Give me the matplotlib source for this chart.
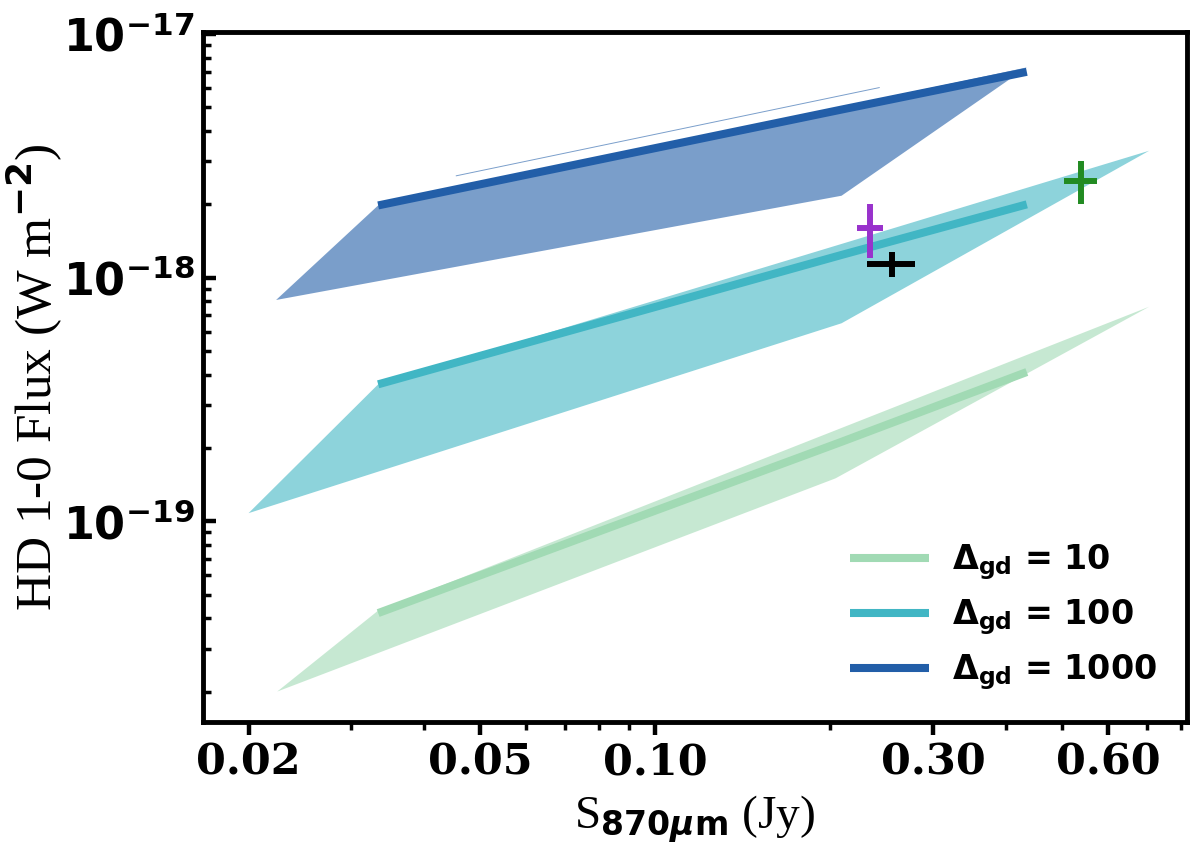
import matplotlib
matplotlib.use("Agg")
import matplotlib.pyplot as plt
from matplotlib.ticker import FixedLocator, FixedFormatter, NullFormatter

plt.rcParams['mathtext.fontset'] = 'dejavusans'

# model curves (S870 in Jy, HD 1-0 flux in W m^-2)
s870_line = [0.0334, 0.209, 0.435]
flux_gd10 = [4.2e-20, 2.12e-19, 4.1e-19]
flux_gd100 = [3.65e-19, 1.24e-18, 2.0e-18]
flux_gd1000 = [1.98e-18, 4.9e-18, 7.0e-18]

# outlines of the shaded model ranges
fill_x_gd10 = [0.0224, 0.0334, 0.706, 0.204]
fill_y_gd10 = [2.0e-20, 4.3e-20, 7.6e-19, 1.5e-19]
fill_x_gd100 = [0.0200, 0.0334, 0.706, 0.209]
fill_y_gd100 = [1.08e-19, 3.65e-19, 3.32e-18, 6.5e-19]
fill_x_gd1000 = [0.0223, 0.0334, 0.435, 0.209]
fill_y_gd1000 = [8.1e-19, 1.98e-18, 7.3e-18, 2.17e-18]
sliver_x_gd1000 = [0.0455, 0.2426]
sliver_y_gd1000 = [2.62e-18, 6.03e-18]

# observed sources
obs_x = [0.234, 0.2554, 0.5395]
obs_xerr = [0.012, 0.024, 0.035]
obs_y = [1.6e-18, 1.14e-18, 2.5e-18]
obs_yerr = [0.4e-18, 0.13e-18, 0.5e-18]
obs_colors = ['darkorchid', 'black', 'forestgreen']

labels = [r'$\mathbf{\Delta_{gd}}$ = 10', r'$\mathbf{\Delta_{gd}}$ = 100',
          r'$\mathbf{\Delta_{gd}}$ = 1000']
colors = ['#a1dab4', '#41b6c4', '#225ea8']

xticks = [0.02, 0.05, 0.1, 0.3, 0.6]
xticklabels = ['0.02', '0.05', '0.10', '0.30', '0.60']
xminor = [0.03, 0.04, 0.06, 0.07, 0.08, 0.09, 0.2, 0.4, 0.5, 0.7, 0.8]
yticks = [1e-19, 1e-18, 1e-17]
yticklabels = [r'$\mathbf{10^{-19}}$', r'$\mathbf{10^{-18}}$', r'$\mathbf{10^{-17}}$']
yminor = [m * 10.0 ** e for e in (-20, -19, -18) for m in range(2, 10)]

fig = plt.figure(figsize=(12, 8.49), dpi=100)
ax = fig.add_axes([203 / 1200, 1 - 722 / 849, 984 / 1200, 690 / 849])
ax.set_xscale('log')
ax.set_yscale('log')

fills = [(fill_x_gd10, fill_y_gd10), (fill_x_gd100, fill_y_gd100),
         (fill_x_gd1000, fill_y_gd1000)]
lines = [flux_gd10, flux_gd100, flux_gd1000]
for (fx, fy), fl, c, lab in zip(fills, lines, colors, labels):
    ax.fill(fx, fy, color=c, alpha=0.6, lw=0)
    ax.plot(s870_line, fl, color=c, lw=5.8, label=lab, solid_capstyle='butt')
ax.plot(sliver_x_gd1000, sliver_y_gd1000, color=colors[2], alpha=0.6, lw=0.7)

for x, xe, y, ye, c in zip(obs_x, obs_xerr, obs_y, obs_yerr, obs_colors):
    ax.errorbar(x, y, xerr=xe, yerr=ye, fmt='none', ecolor=c, elinewidth=4.3,
                capsize=0, zorder=5)

ax.set_xlim(0.0167, 0.82)
ax.set_ylim(1.5e-20, 1.02e-17)

ax.xaxis.set_major_locator(FixedLocator(xticks))
ax.xaxis.set_major_formatter(FixedFormatter(xticklabels))
ax.xaxis.set_minor_locator(FixedLocator(xminor))
ax.xaxis.set_minor_formatter(NullFormatter())
ax.yaxis.set_major_locator(FixedLocator(yticks))
ax.yaxis.set_major_formatter(FixedFormatter(yticklabels))
ax.yaxis.set_minor_locator(FixedLocator(yminor))
ax.yaxis.set_minor_formatter(NullFormatter())

for lbl in ax.get_xticklabels():
    lbl.set_family('DejaVu Serif')
    lbl.set_weight('bold')
    lbl.set_fontsize(31)
ax.tick_params(axis='y', which='major', labelsize=32)

ax.tick_params(axis='x', which='major', direction='out', length=9, width=3.2, pad=5)
ax.tick_params(axis='x', which='minor', direction='out', length=6, width=2.5)
ax.tick_params(axis='y', which='major', direction='in', length=9, width=3.2, pad=6)
ax.tick_params(axis='y', which='minor', direction='in', length=6, width=2.5)
for sp in ax.spines.values():
    sp.set_linewidth(3.5)

ax.set_xlabel(r'S$_{\mathbf{870}\boldsymbol{\mu}\mathbf{m}}$ (Jy)',
              family='Liberation Serif', fontsize=34, labelpad=7)
ax.set_ylabel(r'HD 1-0 Flux (W m$^{\mathbf{-2}}$)', family='Liberation Serif',
              fontsize=37)
ax.yaxis.set_label_coords(-0.14, 0.5)

ax.legend(loc='lower right', bbox_to_anchor=(1.0, 0.0), frameon=False,
          prop={'size': 24, 'weight': 'bold'}, handlelength=2.37,
          handletextpad=0.7, labelspacing=0.45)

fig.savefig('out.png', dpi=100)
